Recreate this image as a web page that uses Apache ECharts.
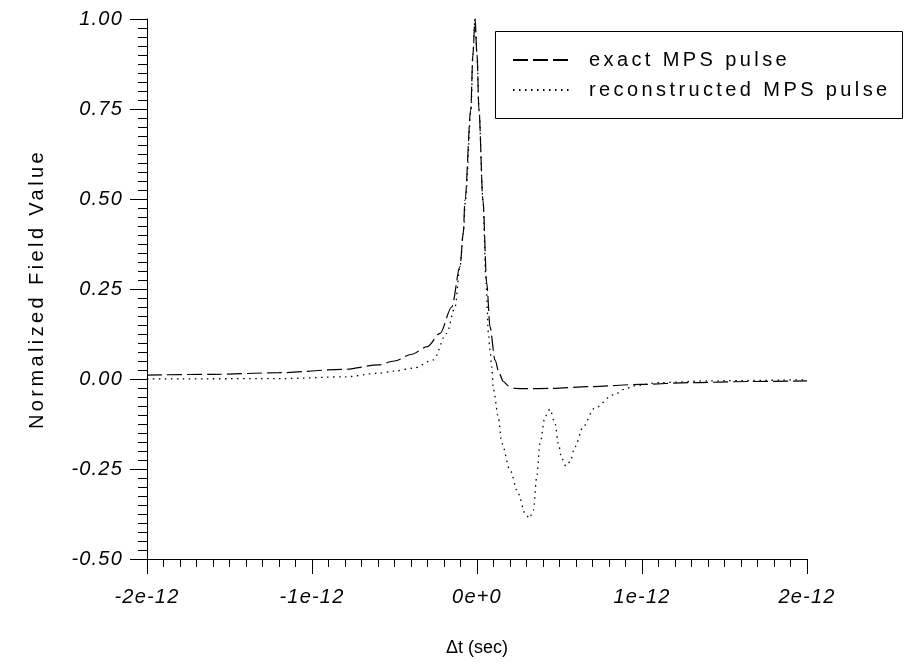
<!DOCTYPE html>
<html>
<head>
<meta charset="utf-8">
<script src="https://cdn.jsdelivr.net/npm/echarts@6/dist/echarts.min.js"></script>
<style>
  html, body { margin: 0; padding: 0; background: #fff; }
  #chart { width: 904px; height: 665px; }
</style>
</head>
<body>
<div id="chart"></div>
<script>
// Time offsets in picoseconds (axis labels show seconds)
const exactT = [-2.0, -1.6, -1.2, -0.8, -0.6, -0.5, -0.4, -0.3, -0.224, -0.153, -0.103, -0.083, -0.073,
  -0.038, -0.025, -0.012, 0.0, 0.012, 0.036, 0.059, 0.079, 0.109, 0.135, 0.159, 0.19, 0.23, 0.3, 0.44,
  0.69, 0.99, 1.3, 1.65, 2.0];
const exactV = [0.011, 0.013, 0.0175, 0.027, 0.039, 0.05, 0.068, 0.09, 0.127, 0.2, 0.312, 0.405, 0.497,
  0.747, 0.9, 1.0, 0.9, 0.747, 0.497, 0.266, 0.145, 0.053, 0.015, -0.007, -0.019, -0.026, -0.027, -0.026,
  -0.021, -0.015, -0.010, -0.007, -0.005];

const reconT = [-2.0, -1.2, -0.8, -0.6, -0.5, -0.386, -0.265, -0.184, -0.133, -0.103, -0.083, -0.07,
  -0.036, -0.025, -0.012, 0.0, 0.012, 0.036, 0.055, 0.069, 0.079, 0.089, 0.1, 0.129, 0.15, 0.2, 0.25,
  0.291, 0.318, 0.342, 0.362, 0.382, 0.412, 0.442, 0.473, 0.493, 0.513, 0.539, 0.564, 0.594, 0.644,
  0.71, 0.826, 0.907, 0.947, 1.109, 1.412, 2.0];
const reconV = [0.0, 0.001, 0.006, 0.016, 0.022, 0.03, 0.053, 0.127, 0.2, 0.312, 0.405, 0.497,
  0.747, 0.9, 1.0, 0.9, 0.747, 0.497, 0.266, 0.127, 0.08, 0.034, -0.03, -0.105, -0.179, -0.253, -0.318,
  -0.373, -0.387, -0.364, -0.271, -0.179, -0.105, -0.084, -0.123, -0.179, -0.22, -0.242, -0.230, -0.188, -0.132,
  -0.082, -0.044, -0.026, -0.019, -0.010, -0.005, -0.002];

const xTickLabels = ['-2e-12', '-1e-12', '0e+0', '1e-12', '2e-12'];
const seriesNames = ['exact MPS pulse', 'reconstructed MPS pulse'];

// Wider tracking for the chart's text, keyed on the font in use
(function () {
  const proto = CanvasRenderingContext2D.prototype;
  if (!('letterSpacing' in proto)) return;
  const fill = proto.fillText;
  proto.fillText = function (text, x, y, w) {
    const f = this.font || '';
    let ls = '0px';
    if (f.indexOf('italic') >= 0) ls = '1.2px';
    else if (f.indexOf('20px') >= 0) ls = '3.4px';
    const prev = this.letterSpacing;
    this.letterSpacing = ls;
    if (w === undefined) fill.call(this, text, x, y); else fill.call(this, text, x, y, w);
    this.letterSpacing = prev;
  };
})();

const zip = (a, b) => a.map((t, i) => [t, b[i]]);
const FONT = 'Liberation Sans, Arial, Helvetica, sans-serif';

const chart = echarts.init(document.getElementById('chart'), null, { renderer: 'canvas' });
chart.setOption({
  animation: false,
  backgroundColor: '#fff',
  grid: { left: 147, right: 97, top: 19, bottom: 106, containLabel: false },
  legend: {
    orient: 'vertical',
    left: 512, top: 50,
    itemWidth: 58, itemHeight: 14, itemGap: 10,
    padding: 0,
    data: seriesNames,
    itemStyle: { opacity: 0 },
    textStyle: { fontFamily: FONT, fontSize: 20, color: '#000', padding: [0, 0, 0, 13] },
    selectedMode: false
  },
  graphic: [{
    type: 'rect', shape: { x: 495.5, y: 31.5, width: 407, height: 87 },
    style: { fill: 'none', stroke: '#000', lineWidth: 1 }, z: 10
  }],
  xAxis: {
    type: 'value', min: -2, max: 2, interval: 1,
    name: '\u0394t (sec)', nameLocation: 'middle', nameGap: 80,
    nameTextStyle: { fontFamily: FONT, fontSize: 18, color: '#000' },
    axisLine: { show: true, onZero: false, lineStyle: { color: '#000', width: 1 } },
    axisTick: { show: true, inside: false, length: 15, lineStyle: { color: '#000' } },
    minorTick: { show: true, splitNumber: 10, length: 8, lineStyle: { color: '#000' } },
    splitLine: { show: false },
    axisLabel: {
      margin: 28, color: '#000', fontFamily: FONT, fontSize: 20, fontStyle: 'italic',
      formatter: v => xTickLabels[Math.round(v) + 2]
    }
  },
  yAxis: {
    type: 'value', min: -0.5, max: 1, interval: 0.25,
    name: 'Normalized Field Value', nameLocation: 'middle', nameGap: 100, nameRotate: 90,
    nameTextStyle: { fontFamily: FONT, fontSize: 20, color: '#000' },
    axisLine: { show: true, onZero: false, lineStyle: { color: '#000', width: 1 } },
    axisTick: { show: true, inside: false, length: 17, lineStyle: { color: '#000' } },
    minorTick: { show: true, splitNumber: 10, length: 9, lineStyle: { color: '#000' } },
    splitLine: { show: false },
    axisLabel: {
      margin: 24, color: '#000', fontFamily: FONT, fontSize: 20, fontStyle: 'italic',
      formatter: v => v.toFixed(2)
    }
  },
  series: [
    {
      name: seriesNames[0], type: 'line', data: zip(exactT, exactV),
      showSymbol: false, symbol: 'none', smooth: 0.3, smoothMonotone: 'x',
      itemStyle: { color: '#000' },
      lineStyle: { color: '#000', width: 1.2, type: [15, 5] }
    },
    {
      name: seriesNames[1], type: 'line', data: zip(reconT, reconV),
      showSymbol: false, symbol: 'none', smooth: 0.3, smoothMonotone: 'x',
      itemStyle: { color: '#000' },
      lineStyle: { color: '#000', width: 1.3, type: [1.5, 4.5] }
    }
  ]
});
</script>
</body>
</html>
